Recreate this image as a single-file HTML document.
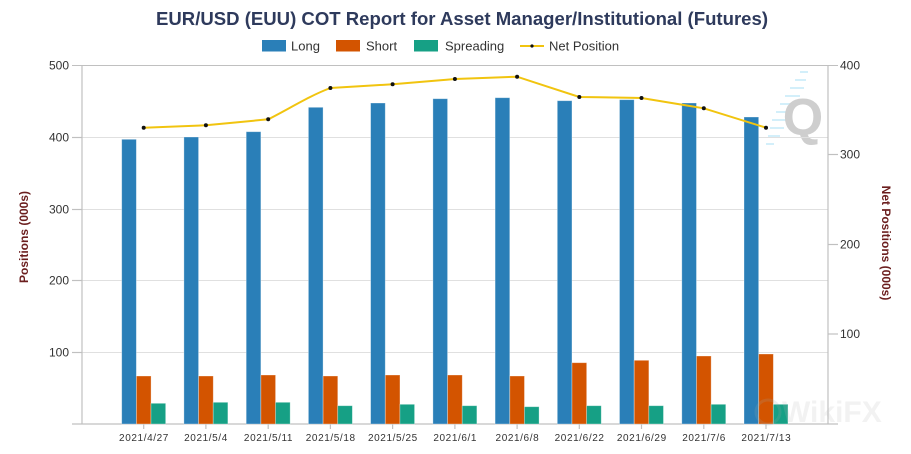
<!DOCTYPE html>
<html><head><meta charset="utf-8"><style>
html,body{margin:0;padding:0;background:#fff;}
svg{display:block;}
text{font-family:"Liberation Sans",sans-serif;}
</style></head><body>
<svg width="911" height="454" viewBox="0 0 911 454" xmlns="http://www.w3.org/2000/svg">
<rect width="911" height="454" fill="#fff"/>
<!-- watermark Q -->
<g opacity="0.9">
<g stroke="#cfeefa" stroke-width="2">
<line x1="800" y1="72" x2="808" y2="72"/><line x1="795" y1="80" x2="806" y2="80"/>
<line x1="790" y1="88" x2="804" y2="88"/><line x1="785" y1="96" x2="800" y2="96"/>
<line x1="780" y1="104" x2="796" y2="104"/><line x1="776" y1="112" x2="792" y2="112"/>
<line x1="772" y1="120" x2="788" y2="120"/><line x1="770" y1="128" x2="784" y2="128"/>
<line x1="768" y1="136" x2="780" y2="136"/><line x1="766" y1="144" x2="774" y2="144"/>
</g>
<text x="803" y="135" font-size="52" font-weight="bold" fill="#c9c9c9" text-anchor="middle">Q</text>
</g>
<!-- gridlines -->
<g stroke="#e0e0e0" stroke-width="1">
<line x1="82" y1="137.5" x2="828" y2="137.5"/>
<line x1="82" y1="209.5" x2="828" y2="209.5"/>
<line x1="82" y1="280.5" x2="828" y2="280.5"/>
<line x1="82" y1="352.5" x2="828" y2="352.5"/>
</g>
<line x1="72" y1="65.5" x2="838" y2="65.5" stroke="#c0c0c0"/>
<!-- axes -->
<g stroke="#c0c0c0" stroke-width="1.2">
<line x1="82" y1="65" x2="82" y2="424"/>
<line x1="828" y1="65" x2="828" y2="424"/>
<line x1="72" y1="424" x2="838" y2="424"/>
<line x1="72" y1="137.5" x2="82" y2="137.5"/>
<line x1="72" y1="209.5" x2="82" y2="209.5"/>
<line x1="72" y1="280.5" x2="82" y2="280.5"/>
<line x1="72" y1="352.5" x2="82" y2="352.5"/>
<line x1="828" y1="154.5" x2="838" y2="154.5"/>
<line x1="828" y1="244.5" x2="838" y2="244.5"/>
<line x1="828" y1="334" x2="838" y2="334"/>
<line x1="143.7" y1="424" x2="143.7" y2="429"/>
<line x1="205.9" y1="424" x2="205.9" y2="429"/>
<line x1="268.2" y1="424" x2="268.2" y2="429"/>
<line x1="330.4" y1="424" x2="330.4" y2="429"/>
<line x1="392.6" y1="424" x2="392.6" y2="429"/>
<line x1="454.9" y1="424" x2="454.9" y2="429"/>
<line x1="517.1" y1="424" x2="517.1" y2="429"/>
<line x1="579.3" y1="424" x2="579.3" y2="429"/>
<line x1="641.5" y1="424" x2="641.5" y2="429"/>
<line x1="703.8" y1="424" x2="703.8" y2="429"/>
<line x1="766.0" y1="424" x2="766.0" y2="429"/>
</g>
<!-- bars -->
<g stroke="#ffffff" stroke-opacity="0.4" stroke-width="0.8">
<g fill="#2a7fb8">
<rect x="121.7" y="139.3" width="14.67" height="284.7"/>
<rect x="183.9" y="137" width="14.67" height="287"/>
<rect x="246.2" y="131.7" width="14.67" height="292.3"/>
<rect x="308.4" y="107.3" width="14.67" height="316.7"/>
<rect x="370.6" y="103" width="14.67" height="321"/>
<rect x="432.9" y="98.7" width="14.67" height="325.3"/>
<rect x="495.1" y="97.7" width="14.67" height="326.3"/>
<rect x="557.3" y="100.7" width="14.67" height="323.3"/>
<rect x="619.5" y="99.7" width="14.67" height="324.3"/>
<rect x="681.8" y="103" width="14.67" height="321"/>
<rect x="744.0" y="117" width="14.67" height="307"/>
</g>
<g fill="#d35400">
<rect x="136.4" y="376" width="14.67" height="48"/>
<rect x="198.6" y="376" width="14.67" height="48"/>
<rect x="260.9" y="375" width="14.67" height="49"/>
<rect x="323.1" y="376" width="14.67" height="48"/>
<rect x="385.3" y="375" width="14.67" height="49"/>
<rect x="447.6" y="375" width="14.67" height="49"/>
<rect x="509.8" y="376" width="14.67" height="48"/>
<rect x="572.0" y="362.7" width="14.67" height="61.3"/>
<rect x="634.2" y="360.3" width="14.67" height="63.7"/>
<rect x="696.5" y="356" width="14.67" height="68"/>
<rect x="758.7" y="354" width="14.67" height="70"/>
</g>
<g fill="#16a085">
<rect x="151.0" y="403.3" width="14.67" height="20.7"/>
<rect x="213.2" y="402.3" width="14.67" height="21.7"/>
<rect x="275.5" y="402.3" width="14.67" height="21.7"/>
<rect x="337.7" y="405.7" width="14.67" height="18.3"/>
<rect x="399.9" y="404.3" width="14.67" height="19.7"/>
<rect x="462.2" y="405.7" width="14.67" height="18.3"/>
<rect x="524.4" y="406.7" width="14.67" height="17.3"/>
<rect x="586.6" y="405.7" width="14.67" height="18.3"/>
<rect x="648.8" y="405.7" width="14.67" height="18.3"/>
<rect x="711.1" y="404.3" width="14.67" height="19.7"/>
<rect x="773.3" y="404.3" width="14.67" height="19.7"/>
</g>
</g>
<!-- WikiFX watermark -->
<g opacity="0.18">
<circle cx="768" cy="412" r="12" fill="none" stroke="#9aa" stroke-width="3"/>
<text x="782" y="422" font-size="30" font-weight="bold" fill="#bbb">WikiFX</text>
</g>
<!-- net position line -->
<path d="M143.7,127.7 C164,126.9 185,126.1 205.9,125.3 C226,123.3 248,121.3 268.2,119.3 C289,108.9 309,96 330.4,88 C351,86.8 372,85.5 392.6,84.3 C413,82.5 434,80.8 454.9,79 C476,78.2 496,77.5 517.1,76.7 C538,83.5 558,90.2 579.3,97 C600,97.3 620,97.7 641.5,98 C662,101.4 683,104.9 703.8,108.3 C724,114.8 745,121.2 766,127.7" fill="none" stroke="#f1c40f" stroke-width="2"/>
<g fill="#111">
<circle cx="143.7" cy="127.7" r="2"/><circle cx="205.9" cy="125.3" r="2"/>
<circle cx="268.2" cy="119.3" r="2"/><circle cx="330.4" cy="88" r="2"/>
<circle cx="392.6" cy="84.3" r="2"/><circle cx="454.9" cy="79" r="2"/>
<circle cx="517.1" cy="76.7" r="2"/><circle cx="579.3" cy="97" r="2"/>
<circle cx="641.5" cy="98" r="2"/><circle cx="703.8" cy="108.3" r="2"/>
<circle cx="766" cy="127.7" r="2"/>
</g>
<!-- title -->
<text x="462" y="25" font-size="18" font-weight="bold" fill="#2e3a5c" text-anchor="middle" textLength="612" lengthAdjust="spacingAndGlyphs">EUR/USD (EUU) COT Report for Asset Manager/Institutional (Futures)</text>
<!-- legend -->
<rect x="262" y="40" width="24" height="11.5" fill="#2a7fb8"/>
<text x="291" y="50.5" font-size="13" fill="#333">Long</text>
<rect x="336" y="40" width="24" height="11.5" fill="#d35400"/>
<text x="366" y="50.5" font-size="13" fill="#333">Short</text>
<rect x="414" y="40" width="24" height="11.5" fill="#16a085"/>
<text x="445" y="50.5" font-size="13" fill="#333">Spreading</text>
<line x1="520" y1="46" x2="544" y2="46" stroke="#f1c40f" stroke-width="2"/>
<circle cx="532" cy="46" r="1.6" fill="#111"/>
<text x="549" y="50.5" font-size="13" fill="#333">Net Position</text>
<!-- left y labels -->
<g font-size="12" fill="#333" text-anchor="end">
<text x="69" y="69.5">500</text>
<text x="69" y="141.5">400</text>
<text x="69" y="213.5">300</text>
<text x="69" y="284.5">200</text>
<text x="69" y="356.5">100</text>
</g>
<g font-size="12" fill="#333">
<text x="840" y="69.5">400</text>
<text x="840" y="158.5">300</text>
<text x="840" y="248.5">200</text>
<text x="840" y="338">100</text>
</g>
<!-- axis titles -->
<text transform="translate(28,237) rotate(-90)" font-size="12" font-weight="bold" fill="#6b1e1e" text-anchor="middle">Positions (000s)</text>
<text transform="translate(882,243) rotate(90)" font-size="12" font-weight="bold" fill="#6b1e1e" text-anchor="middle">Net Positions (000s)</text>
<!-- x labels -->
<g font-size="10" fill="#333" text-anchor="middle" letter-spacing="0.6">
<text x="144" y="441">2021/4/27</text>
<text x="206" y="441">2021/5/4</text>
<text x="268.5" y="441">2021/5/11</text>
<text x="330.7" y="441">2021/5/18</text>
<text x="392.9" y="441">2021/5/25</text>
<text x="455.2" y="441">2021/6/1</text>
<text x="517.4" y="441">2021/6/8</text>
<text x="579.6" y="441">2021/6/22</text>
<text x="641.8" y="441">2021/6/29</text>
<text x="704.1" y="441">2021/7/6</text>
<text x="766.3" y="441">2021/7/13</text>
</g>
</svg>
</body></html>
